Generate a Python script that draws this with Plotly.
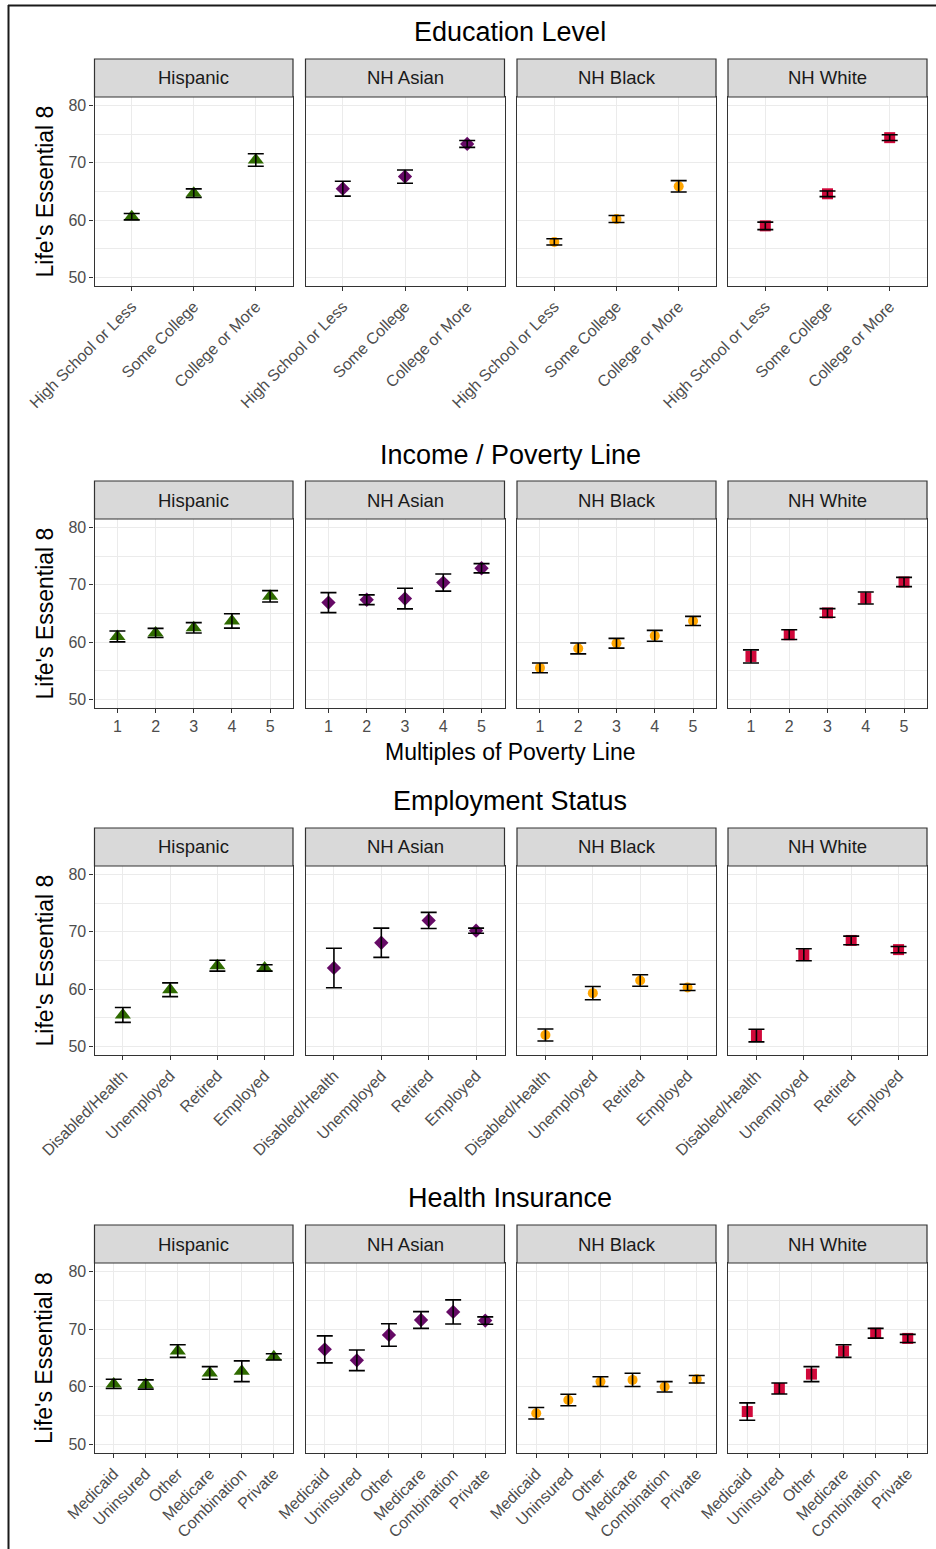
import plotly.graph_objects as go

# ---------------- data ----------------
races = ["Hispanic", "NH Asian", "NH Black", "NH White"]

edu_cats = ["High School or Less", "Some College", "College or More"]
edu_hispanic = [60.6, 64.7, 70.5]
edu_hispanic_err = [0.55, 0.75, 1.1]
edu_asian = [65.5, 67.6, 73.3]
edu_asian_err = [1.3, 1.15, 0.6]
edu_black = [56.2, 60.2, 65.9]
edu_black_err = [0.55, 0.6, 1.0]
edu_white = [59.0, 64.6, 74.4]
edu_white_err = [0.65, 0.5, 0.5]

inc_cats = [1, 2, 3, 4, 5]
inc_hispanic = [61.0, 61.6, 62.5, 63.7, 68.0]
inc_hispanic_err = [0.95, 0.8, 0.9, 1.25, 1.0]
inc_asian = [66.9, 67.4, 67.6, 70.4, 72.9]
inc_asian_err = [1.75, 0.85, 1.8, 1.5, 0.8]
inc_black = [55.5, 58.9, 59.8, 61.1, 63.7]
inc_black_err = [0.85, 0.95, 0.85, 0.95, 0.8]
inc_white = [57.5, 61.3, 65.1, 67.7, 70.5]
inc_white_err = [1.15, 0.85, 0.75, 1.05, 0.8]

emp_cats = ["Disabled/Health", "Unemployed", "Retired", "Employed"]
emp_hispanic = [55.5, 59.9, 64.1, 63.7]
emp_hispanic_err = [1.3, 1.2, 0.95, 0.55]
emp_asian = [63.7, 68.1, 72.0, 70.2]
emp_asian_err = [3.45, 2.55, 1.4, 0.45]
emp_black = [52.0, 59.3, 61.5, 60.3]
emp_black_err = [1.05, 1.15, 1.0, 0.55]
emp_white = [51.9, 66.0, 68.5, 66.9]
emp_white_err = [1.1, 1.05, 0.75, 0.55]

ins_cats = ["Medicaid", "Uninsured", "Other", "Medicare", "Combination", "Private"]
ins_hispanic = [60.5, 60.4, 66.2, 62.4, 62.7, 65.2]
ins_hispanic_err = [0.8, 0.8, 1.1, 1.1, 1.8, 0.55]
ins_asian = [66.5, 64.6, 69.0, 71.6, 73.0, 71.5]
ins_asian_err = [2.35, 1.8, 1.95, 1.45, 2.1, 0.65]
ins_black = [55.4, 57.7, 60.9, 61.2, 60.0, 61.3]
ins_black_err = [1.0, 1.0, 0.85, 1.15, 0.9, 0.65]
ins_white = [55.7, 59.7, 62.2, 66.2, 69.3, 68.4]
ins_white_err = [1.5, 0.95, 1.3, 1.1, 0.85, 0.7]

section_titles = ["Education Level", "Income / Poverty Line", "Employment Status", "Health Insurance"]
y_ticks = [50, 60, 70, 80]

sections = [
    (edu_cats, [(edu_hispanic, edu_hispanic_err), (edu_asian, edu_asian_err),
                (edu_black, edu_black_err), (edu_white, edu_white_err)]),
    (inc_cats, [(inc_hispanic, inc_hispanic_err), (inc_asian, inc_asian_err),
                (inc_black, inc_black_err), (inc_white, inc_white_err)]),
    (emp_cats, [(emp_hispanic, emp_hispanic_err), (emp_asian, emp_asian_err),
                (emp_black, emp_black_err), (emp_white, emp_white_err)]),
    (ins_cats, [(ins_hispanic, ins_hispanic_err), (ins_asian, ins_asian_err),
                (ins_black, ins_black_err), (ins_white, ins_white_err)]),
]

# ---------------- styling ----------------
W, H = 936, 1549
FONT = "Liberation Sans, Arial, sans-serif"
colors = ["#2F6B00", "#660A66", "#FFA500", "#D0083A"]
symbols = ["triangle-up", "diamond", "circle", "square"]
sizes = [14, 11, 10, 11]

col_px = [(94.5, 293), (305.5, 504.5), (517, 716), (728, 927)]
row_px = [(97, 286), (519, 708), (866, 1055), (1263, 1453)]
strip_h = 38
title_y = [32, 455, 801, 1198]


def fx(x):
    return x / W


def fy(y):
    return 1 - y / H


fig = go.Figure()
layout = {}
shapes = []
annotations = []

for r, (cats, series) in enumerate(sections):
    n = len(cats)
    numeric = r == 1
    for c in range(4):
        k = r * 4 + c + 1
        xa = "x" if k == 1 else f"x{k}"
        ya = "y" if k == 1 else f"y{k}"
        vals, errs = series[c]
        fig.add_trace(go.Scatter(
            x=cats, y=vals, xaxis=xa, yaxis=ya, mode="markers",
            marker=dict(symbol=symbols[c], size=sizes[c], color=colors[c],
                        line=dict(width=0)),
            showlegend=False, hoverinfo="x+y"))
        fig.add_trace(go.Scatter(
            x=cats, y=vals, xaxis=xa, yaxis=ya, mode="markers",
            marker=dict(size=1, color="rgba(0,0,0,0)"),
            error_y=dict(type="data", array=errs, visible=True,
                         color="black", thickness=1.6, width=8),
            showlegend=False, hoverinfo="skip"))

        x0, x1 = col_px[c]
        y0, y1 = row_px[r]
        xname = "xaxis" if k == 1 else f"xaxis{k}"
        yname = "yaxis" if k == 1 else f"yaxis{k}"
        xdict = dict(
            domain=[fx(x0), fx(x1)], anchor=ya, automargin=False,
            showgrid=True, gridcolor="#EBEBEB", gridwidth=1.1,
            showline=True, mirror=True, linecolor="#333333", linewidth=1.2,
            ticks="outside", ticklen=4, tickwidth=1.1, tickcolor="#333333",
            tickfont=dict(family=FONT, size=16, color="#4D4D4D"),
            zeroline=False, fixedrange=True,
        )
        if numeric:
            xdict.update(type="linear", range=[0.4, 5.6], tickvals=cats,
                         ticktext=[str(v) for v in cats], tickangle=0)
        else:
            xdict.update(type="category", categoryorder="array",
                         categoryarray=cats, range=[-0.6, n - 0.4],
                         tickangle=-45)
        layout[xname] = xdict

        ydict = dict(
            domain=[fy(y1), fy(y0)], anchor=xa, range=[48.5, 81.5],
            automargin=False,
            tickvals=y_ticks, showgrid=True, gridcolor="#EBEBEB", gridwidth=1.1,
            minor=dict(tickvals=[55, 65, 75], showgrid=True,
                       gridcolor="#EBEBEB", gridwidth=0.8, ticks=""),
            showline=True, mirror=True, linecolor="#333333", linewidth=1.2,
            zeroline=False, fixedrange=True,
            tickfont=dict(family=FONT, size=16, color="#4D4D4D"),
        )
        if c == 0:
            ydict.update(ticks="outside", ticklen=4, tickwidth=1.1,
                         tickcolor="#333333", showticklabels=True)
        else:
            ydict.update(ticks="", showticklabels=False)
        layout[yname] = ydict

        # strip
        shapes.append(dict(type="rect", xref="paper", yref="paper",
                           x0=fx(x0), x1=fx(x1), y0=fy(y0), y1=fy(y0 - strip_h),
                           fillcolor="#D9D9D9", line=dict(color="#333333", width=1.2),
                           layer="above"))
        annotations.append(dict(text=races[c], xref="paper", yref="paper",
                                x=fx((x0 + x1) / 2), y=fy(y0 - strip_h / 2),
                                showarrow=False, xanchor="center", yanchor="middle",
                                font=dict(family=FONT, size=18.5, color="#1A1A1A")))

    # section title
    annotations.append(dict(text=section_titles[r], xref="paper", yref="paper",
                            x=fx(510.5), y=fy(title_y[r]), showarrow=False,
                            xanchor="center", yanchor="middle",
                            font=dict(family=FONT, size=27, color="black")))
    # y axis title
    y0, y1 = row_px[r]
    annotations.append(dict(text="Life's Essential 8", xref="paper", yref="paper",
                            x=fx(44), y=fy((y0 + y1) / 2), showarrow=False,
                            textangle=-90, xanchor="center", yanchor="middle",
                            font=dict(family=FONT, size=23, color="black")))

annotations.append(dict(text="Multiples of Poverty Line", xref="paper", yref="paper",
                        x=fx(510.5), y=fy(752), showarrow=False,
                        xanchor="center", yanchor="middle",
                        font=dict(family=FONT, size=23, color="black")))

# outer frame lines (left and top)
shapes.append(dict(type="line", xref="paper", yref="paper",
                   x0=fx(8.5), x1=fx(8.5), y0=0, y1=fy(5),
                   line=dict(color="#1A1A1A", width=2)))
shapes.append(dict(type="line", xref="paper", yref="paper",
                   x0=fx(8), x1=1, y0=fy(5.5), y1=fy(5.5),
                   line=dict(color="#1A1A1A", width=2)))

fig.update_layout(
    width=W, height=H,
    margin=dict(l=0, r=0, t=0, b=0, autoexpand=False),
    paper_bgcolor="white", plot_bgcolor="white",
    shapes=shapes, annotations=annotations,
    showlegend=False,
    font=dict(family=FONT),
    **layout,
)

fig.write_html("out.html", config={"displayModeBar": False},
               post_script="document.body.style.margin='0';document.body.style.overflow='hidden';")
